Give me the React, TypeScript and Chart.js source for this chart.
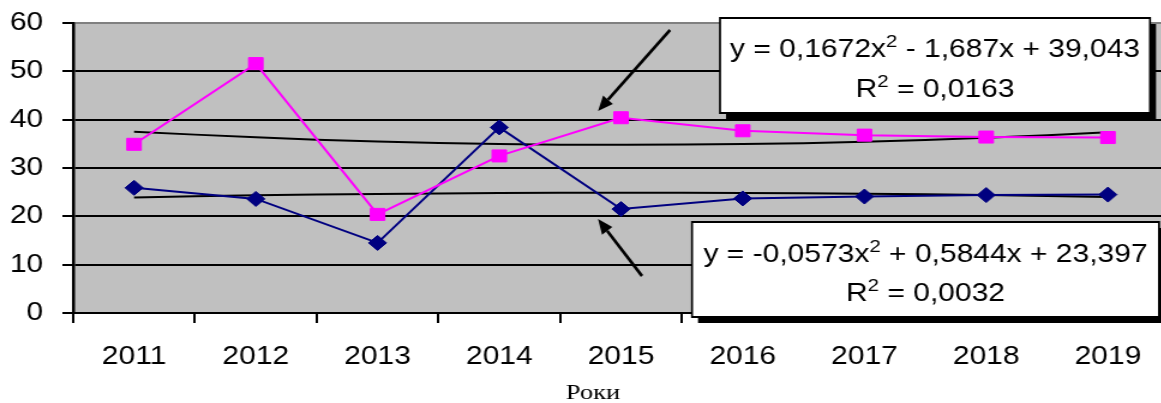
import React, { useEffect, useRef } from 'react';
import { Chart, registerables } from 'chart.js';

Chart.register(...registerables);

// ---- data ----
const years = ['2011', '2012', '2013', '2014', '2015', '2016', '2017', '2018', '2019'];
const seriesPink = [34.9, 51.6, 20.4, 32.5, 40.4, 37.7, 36.8, 36.4, 36.3];
const seriesNavy = [25.9, 23.6, 14.5, 38.4, 21.5, 23.7, 24.1, 24.4, 24.5];
const trendPink = [37.52, 36.34, 35.49, 34.97, 34.79, 34.94, 35.43, 36.25, 37.4];
const trendNavy = [23.92, 24.34, 24.63, 24.82, 24.89, 24.84, 24.68, 24.4, 24.02];
const yMin = 0;
const yMax = 60;
const yStep = 10;
const xTitle = 'Роки';
const eqPink = [{ t: 'y = 0,1672x' }, { t: '2', sup: true }, { t: ' - 1,687x + 39,043' }];
const r2Pink = [{ t: 'R' }, { t: '2', sup: true }, { t: ' = 0,0163' }];
const eqNavy = [{ t: 'y = -0,0573x' }, { t: '2', sup: true }, { t: ' + 0,5844x + 23,397' }];
const r2Navy = [{ t: 'R' }, { t: '2', sup: true }, { t: ' = 0,0032' }];

// horizontal stretch of the whole picture
const S = 1.2;
const CW = 985;
const CH = 403;

type Part = { t: string; sup?: boolean };

const MAIN_FONT = '25px "Liberation Sans", Arial, sans-serif';
const SUP_FONT = '17px "Liberation Sans", Arial, sans-serif';

function drawRich(ctx: CanvasRenderingContext2D, cx: number, baseY: number, parts: Part[]) {
  ctx.textAlign = 'left';
  ctx.textBaseline = 'alphabetic';
  ctx.fillStyle = '#000';
  let total = 0;
  const ws: number[] = [];
  for (const p of parts) {
    ctx.font = p.sup ? SUP_FONT : MAIN_FONT;
    const w = ctx.measureText(p.t).width;
    ws.push(w);
    total += w;
  }
  let x = cx - total / 2;
  parts.forEach((p, i) => {
    ctx.font = p.sup ? SUP_FONT : MAIN_FONT;
    ctx.fillText(p.t, x, p.sup ? baseY - 10 : baseY);
    x += ws[i];
  });
}

// box coordinates given in screen pixels
function drawBox(
  ctx: CanvasRenderingContext2D,
  l: number, t: number, r: number, b: number,
  line1: Part[], line2: Part[], base1: number, base2: number
) {
  ctx.save();
  ctx.scale(1 / S, 1);
  ctx.fillStyle = '#000';
  ctx.fillRect(l + 6, t + 6, r - l, b - t);
  ctx.fillStyle = '#fff';
  ctx.fillRect(l, t, r - l, b - t);
  ctx.strokeStyle = '#000';
  ctx.lineWidth = 2;
  ctx.strokeRect(l, t, r - l, b - t);
  ctx.restore();
  const cx = (l + r) / 2 / S;
  drawRich(ctx, cx, base1, line1);
  drawRich(ctx, cx, base2, line2);
}

function drawArrow(ctx: CanvasRenderingContext2D, x1: number, y1: number, x2: number, y2: number) {
  ctx.save();
  ctx.scale(1 / S, 1);
  const ang = Math.atan2(y2 - y1, x2 - x1);
  const head = 15;
  const half = 6.5;
  const bx = x2 - Math.cos(ang) * head;
  const by = y2 - Math.sin(ang) * head;
  ctx.strokeStyle = '#000';
  ctx.lineWidth = 3;
  ctx.beginPath();
  ctx.moveTo(x1, y1);
  ctx.lineTo(bx, by);
  ctx.stroke();
  ctx.fillStyle = '#000';
  ctx.beginPath();
  ctx.moveTo(x2, y2);
  ctx.lineTo(bx + Math.sin(ang) * half, by - Math.cos(ang) * half);
  ctx.lineTo(bx - Math.sin(ang) * half, by + Math.cos(ang) * half);
  ctx.closePath();
  ctx.fill();
  ctx.restore();
}

const bgPlugin = {
  id: 'plotBg',
  beforeDraw(chart: any) {
    const { ctx, chartArea } = chart;
    const { left, top, right, bottom } = chartArea;
    ctx.save();
    ctx.fillStyle = '#fff';
    ctx.fillRect(0, 0, chart.width, chart.height);
    ctx.fillStyle = '#C0C0C0';
    ctx.fillRect(left, top, right - left, bottom - top);
    ctx.restore();
  },
};

const annotPlugin = {
  id: 'annot',
  afterDraw(chart: any) {
    const ctx: CanvasRenderingContext2D = chart.ctx;
    drawArrow(ctx, 670, 30, 598, 111);
    drawArrow(ctx, 642, 276, 598, 219);
    drawBox(ctx, 720, 18, 1150, 113, eqPink, r2Pink, 57, 97);
    drawBox(ctx, 692, 222, 1159, 317, eqNavy, r2Navy, 262, 301);
    // axis title
    ctx.save();
    ctx.font = '22px "Liberation Serif", "Times New Roman", serif';
    ctx.fillStyle = '#000';
    ctx.textAlign = 'center';
    ctx.textBaseline = 'alphabetic';
    ctx.fillText(xTitle, 593 / S, 399);
    ctx.restore();
  },
};

export default function App() {
  const ref = useRef<HTMLCanvasElement | null>(null);

  useEffect(() => {
    if (!ref.current) return;
    const tickFont = { family: '"Liberation Sans", Arial, sans-serif', size: 25 };
    const chart = new Chart(ref.current, {
      type: 'line',
      data: {
        labels: years,
        datasets: [
          {
            data: seriesPink,
            borderColor: '#FF00FF',
            backgroundColor: '#FF00FF',
            pointBackgroundColor: '#FF00FF',
            pointBorderColor: '#FF00FF',
            borderWidth: 2,
            pointStyle: 'rect',
            pointRadius: 8.5,
            pointBorderWidth: 1,
            tension: 0,
          },
          {
            data: seriesNavy,
            borderColor: '#000080',
            backgroundColor: '#000080',
            pointBackgroundColor: '#000080',
            pointBorderColor: '#000080',
            borderWidth: 2,
            pointStyle: 'rectRot',
            pointRadius: 7.5,
            pointBorderWidth: 1,
            tension: 0,
          },
          {
            data: trendPink,
            borderColor: '#000',
            borderWidth: 2,
            pointRadius: 0,
            tension: 0.4,
          },
          {
            data: trendNavy,
            borderColor: '#000',
            borderWidth: 2,
            pointRadius: 0,
            tension: 0.4,
          },
        ],
      },
      options: {
        animation: false,
        responsive: false,
        layout: { padding: { top: 23, right: 11, bottom: 0, left: 0 } },
        plugins: {
          legend: { display: false },
          tooltip: { enabled: false },
          title: { display: false },
        },
        scales: {
          x: {
            offset: true,
            grid: {
              offset: true,
              drawOnChartArea: false,
              color: '#000',
              lineWidth: 2,
              tickLength: 10,
            },
            border: { color: '#000', width: 2 },
            ticks: {
              color: '#000',
              font: tickFont,
              padding: 19,
              maxRotation: 0,
              autoSkip: false,
            },
            title: { display: false, text: xTitle },
            afterFit: (s: any) => {
              s.height = 90;
            },
          },
          y: {
            min: yMin,
            max: yMax,
            ticks: { stepSize: yStep, color: '#000', font: tickFont, padding: 16 },
            grid: {
              color: (c: any) => (c.tick && c.tick.value === yMax ? '#808080' : '#000'),
              tickColor: '#000',
              lineWidth: 2,
              tickLength: 9,
            },
            border: { color: '#000', width: 2.5 },
            afterFit: (s: any) => {
              s.width = 61;
              s.paddingTop = 0;
              s.paddingBottom = 0;
            },
          },
        },
      },
      plugins: [bgPlugin, annotPlugin],
    } as any);
    return () => chart.destroy();
  }, []);

  return (
    <div
      style={{
        position: 'fixed',
        left: 0,
        top: 0,
        width: 1161,
        height: CH,
        overflow: 'hidden',
        background: '#fff',
      }}
    >
      <div
        style={{
          position: 'absolute',
          left: 0,
          top: 0,
          width: CW,
          height: CH,
          transform: `scaleX(${S})`,
          transformOrigin: '0 0',
        }}
      >
        <canvas ref={ref} width={CW} height={CH} style={{ display: 'block', width: CW, height: CH }} />
      </div>
    </div>
  );
}
